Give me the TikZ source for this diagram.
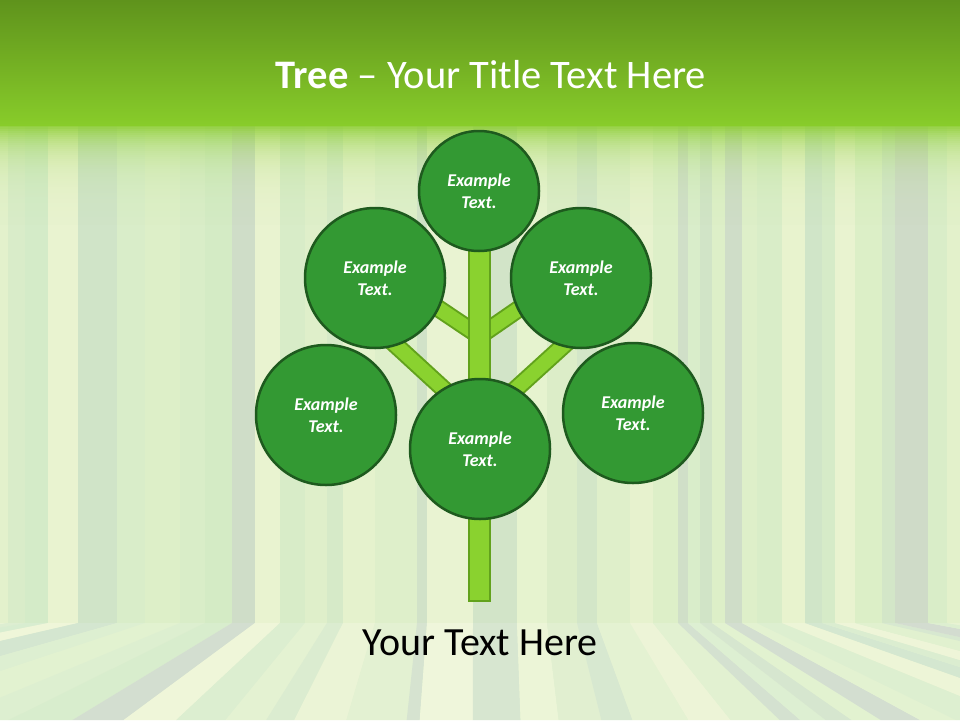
\documentclass[tikz,border=0pt]{standalone}
\usepackage{fontspec}
\setmainfont{Carlito}
\usetikzlibrary{calc}
\definecolor{bandtop}{HTML}{5F931C}
\definecolor{bandbot}{HTML}{88CC2A}
\definecolor{leaf}{HTML}{339933}
\definecolor{leafline}{HTML}{1E5A1E}
\definecolor{wood}{HTML}{8AD22F}
\definecolor{woodline}{HTML}{62A21C}
\definecolor{basebg}{HTML}{DDEFC8}
\tikzset{
  leafnode/.style={circle, fill=leaf, draw=leafline, line width=2.5pt, inner sep=0pt,
    align=center, text=white, font=\fontsize{18}{22}\selectfont\bfseries\itshape},
  bignode/.style={leafnode, minimum size=140pt},
  smallnode/.style={leafnode, minimum size=120pt},
  branch/.style={draw=woodline, line width=2pt, double=wood, double distance=14pt},
  trunkbox/.style={fill=wood, draw=woodline, line width=2.5pt},
}
\begin{document}
\begin{tikzpicture}[x=1pt,y=-1pt]
\useasboundingbox (0,0) rectangle (960,720);
\fill[basebg] (0,0) rectangle (960,720);
% vertical stripes and floor stripes
\foreach \a/\b/\c in {0/8/E5F2CE,8/25/D8ECCA,25/48/D2EAC8,48/78/EDF5D3,78/117/CDE2C8,
  117/145/D8EDCA,145/180/DDF0C8,180/205/D8EDC8,205/232/D2EAC5,232/255/CCD9C8,
  255/280/EDF5D3,280/305/D7ECC8,305/327/E0F0CB,327/343/D5E9C8,343/375/E8F3CF,
  375/417/DFEFCB,417/427/CFDFC8,427/473/EDF5D5,473/517/D0E2C8,517/547/E9F4D1,
  547/577/DCEDC8,577/597/D1E4C8,597/630/E0F0CB,630/653/EAF3D0,653/678/DDEFC9,
  678/688/CDDCC8,688/700/D8EDCB,700/712/CFE2C7,712/725/DDF0C8,725/742/CCD9C8,
  742/757/DFF0CA,757/782/D8EDC8,782/805/EBF4D0,805/822/CDE3C8,822/835/D5EBC8,
  835/855/ECF4D2,855/882/DCEFC7,882/895/D1E4C8,895/928/CCD6C8,928/947/D8EDC8,
  947/960/E5F2CC}{
  \edef\tmp{\noexpand\definecolor{sc}{HTML}{\c}}\tmp
  \fill[sc] (\a,120) rectangle (\b,623);
  \pgfmathsetmacro\fa{480+(\a-480)*(1+0.0026*abs(\a-480))}
  \pgfmathsetmacro\fb{480+(\b-480)*(1+0.0026*abs(\b-480))}
  \fill[sc] (\a,623) -- (\b,623) -- (\fb,720) -- (\fa,720) -- cycle;
}
\fill[basebg, opacity=0.2] (0,120) rectangle (960,623);
\fill[white, opacity=0.15] (0,623) rectangle (960,720);
% top band
\shade[top color=bandtop, bottom color=bandbot] (0,0) rectangle (960,125);
\foreach \i in {0,...,49}{
  \pgfmathsetmacro\op{0.85*exp(-\i/11)}
  \fill[bandbot, opacity=\op] (0,{125+2*\i}) rectangle (960,{127+2*\i});
}
% title
\node[anchor=base, text=white, font=\fontsize{40.5}{48}\selectfont, inner sep=0pt] (title) at (491,88)
  {\textbf{Tree} – Your Title Text Here};
% circle positions
\coordinate (ulpos) at (375,278);
\coordinate (urpos) at (581,278);
% junctions on trunk
\coordinate (uj) at (479.5,336);
\coordinate (lj) at (479.5,422);
% branches (drawn first)
\path (ulpos) ++(0,-12) coordinate (ulend);
\path (urpos) ++(0,-12) coordinate (urend);
\path (ulpos) ++(0,48) coordinate (ullow);
\path (urpos) ++(4,48) coordinate (urlow);
\draw[branch] (uj) -- (ulend);
\draw[branch] (uj) -- (urend);
\draw[branch] (lj) -- (ullow);
\draw[branch] (lj) -- (urlow);
% trunk
\draw[trunkbox] (469,245) rectangle (490,601);
% circles
\node[smallnode] (top) at (479,191) {Example\\Text.};
\node[bignode] (ul) at (ulpos) {Example\\Text.};
\node[bignode] (ur) at (urpos) {Example\\Text.};
\node[bignode] (ll) at (326,415) {Example\\Text.};
\node[bignode] (lr) at (633,413) {Example\\Text.};
\node[bignode] (bc) at (480,449) {Example\\Text.};
% footer text
\node[anchor=base, text=black, font=\fontsize{40}{48}\selectfont, inner sep=0pt] (foot) at (480,655)
  {Your Text Here};
\end{tikzpicture}
\end{document}
